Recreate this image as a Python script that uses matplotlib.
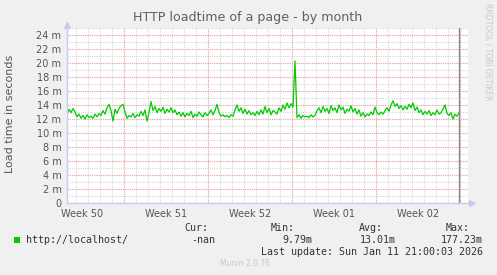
import matplotlib
matplotlib.use('Agg')
import matplotlib.pyplot as plt
import matplotlib.dates as mdates
import numpy as np
import pandas as pd

# load time in ms, one sample every 4 hours
start = '2025-12-10 06:00'
step = '4h'
loadtime = [12.6, 13.4, 12.9, 13.5, 13.0, 12.3, 12.7, 12.1, 12.5, 12.0, 12.6, 12.2, 12.4, 12.1, 12.7,
            12.3, 12.8, 12.5, 13.2, 12.7, 13.6, 14.1, 13.2, 11.7, 13.4, 12.8, 13.5, 13.9, 14.1,
            13.0, 12.1, 12.5, 12.3, 12.8, 12.2, 12.6, 12.4, 13.1, 12.5, 13.3, 11.7, 12.9, 14.5, 13.2,
            13.8, 12.9, 13.5, 13.1, 13.7, 12.8, 13.4, 13.0, 13.6, 12.9, 13.3, 12.6, 13.0, 12.4, 12.9,
            12.3, 12.8, 12.5, 13.1, 12.2, 12.7, 12.4, 13.0, 12.6, 12.3, 12.9, 12.5,
            12.8, 13.3, 12.6, 13.2, 14.1, 12.9, 12.4, 12.6, 12.3, 12.5, 12.2, 12.6, 12.4, 13.3, 14.0,
            13.1, 13.6, 12.8, 13.4, 12.7, 13.2, 12.6, 12.9, 12.5, 13.1, 12.6, 13.3, 12.7, 13.8, 12.9,
            13.5, 12.6, 13.2, 13.0, 12.7, 13.6, 13.1, 14.0, 13.4, 14.3, 13.6, 14.2, 13.7,
            20.3,
            12.2, 12.6, 12.1, 12.5, 12.3, 12.4, 12.2, 12.6, 12.3, 12.5, 13.2, 13.6, 12.9, 13.8, 13.1,
            13.5, 12.8, 13.9, 13.2, 13.6, 12.9, 14.0, 13.3, 13.7, 12.8, 13.4, 13.1, 13.9, 13.0, 13.5,
            12.7, 13.3, 12.4, 12.9, 12.3, 12.7, 12.5, 13.0, 12.6, 13.7,
            12.9, 12.6, 13.0, 12.7, 13.2, 13.6, 13.1, 14.0, 14.6, 13.8, 14.2, 13.5, 13.9, 13.3, 13.8,
            13.4, 14.1, 13.6, 14.3, 13.2, 13.7, 12.9, 13.3, 12.6, 13.1, 12.7, 13.2, 12.5, 12.9, 12.6,
            13.3, 12.7, 12.9, 13.4, 14.0, 12.8, 12.5, 12.9, 12.0, 12.7, 12.4, 12.9]
weeks = ['Week 50', 'Week 51', 'Week 52', 'Week 01', 'Week 02']
week_starts = ['2025-12-08', '2025-12-15', '2025-12-22', '2025-12-29', '2026-01-05', '2026-01-12']
now = '2026-01-11 21:00'
cur, vmin, vavg, vmax = '-nan', '9.79m', '13.01m', '177.23m'
last_update = 'Last update: Sun Jan 11 21:00:03 2026'

times = pd.date_range(start, periods=len(loadtime), freq=step)

W, H = 497, 275
fig = plt.figure(figsize=(W / 100, H / 100), dpi=100, facecolor='#f0f0f0')
ax = fig.add_axes([67 / W, (H - 203) / H, (468 - 67) / W, 175 / H])
ax.set_facecolor('white')

x0 = pd.Timestamp('2025-12-10 06:00')
x1 = pd.Timestamp('2026-01-12 16:00')
ax.set_xlim(x0, x1)
ax.set_ylim(0, 25)

# grid: minor per day / 1 m, major per week / 2 m
for d in pd.date_range('2025-12-11', '2026-01-12', freq='D'):
    ax.axvline(d, color='#d8d8d8', lw=0.8, ls=(0, (1, 1)), zorder=1)
for v in range(1, 26):
    ax.axhline(v, color='#d8d8d8', lw=0.8, ls=(0, (1, 1)), zorder=1)
for v in range(2, 25, 2):
    ax.axhline(v, color='#f0a8a8', lw=0.8, ls=(0, (1, 1)), zorder=1)
for w in week_starts[1:]:
    ax.axvline(pd.Timestamp(w), color='#f0a8a8', lw=0.8, ls=(0, (1, 1)), zorder=1)

ax.plot(times, loadtime, color='#00cc00', lw=0.9, zorder=3)
ax.axvline(pd.Timestamp(now), color='#888888', lw=1.0, zorder=4)

for s in ax.spines.values():
    s.set_visible(False)
axis_col = '#c8c8f0'
ax.plot([0, 0], [0, 1.0], transform=ax.transAxes, color=axis_col, lw=1, clip_on=False, zorder=5)
ax.plot([0, 1.0], [0, 0], transform=ax.transAxes, color=axis_col, lw=1, clip_on=False, zorder=5)
ax.plot([0], [1.02], marker='^', ms=5, color=axis_col, transform=ax.transAxes, clip_on=False)
ax.plot([1.01], [0], marker='>', ms=5, color=axis_col, transform=ax.transAxes, clip_on=False)

label_pos = [pd.Timestamp(w) + pd.Timedelta(hours=84) for w in week_starts[:-1]]
ax.set_xticks(label_pos)
ax.set_xticklabels(weeks)
ax.set_yticks(range(0, 25, 2))
ax.set_yticklabels(['0'] + [f'{v} m' for v in range(2, 25, 2)])
ax.tick_params(length=0, labelsize=7, colors='#555555', pad=4)

fig.text(248 / W, 1 - 18 / H, 'HTTP loadtime of a page - by month', ha='center', va='center',
         fontsize=9.1, color='#606060')
fig.text(10 / W, 1 - 114 / H, 'Load time in seconds', rotation=90, ha='center', va='center',
         fontsize=8, color='#555555')
fig.text(488 / W, 1 - 52 / H, 'RRDTOOL / TOBI OETIKER', rotation=270, ha='center', va='center',
         fontsize=5.5, color='#c8c8c8')

mono = dict(family='DejaVu Sans Mono', fontsize=7.2, color='#333333', va='center')
fig.patches.append(plt.Rectangle((14 / W, 1 - 243 / H), 6 / W, 6 / H, transform=fig.transFigure,
                                 facecolor='#00cc00', edgecolor='none'))
fig.text(26 / W, 1 - 240 / H, 'http://localhost/', ha='left', **mono)
for xr, head in [(208, 'Cur:'), (295, 'Min:'), (383, 'Avg:'), (470, 'Max:')]:
    fig.text(xr / W, 1 - 228 / H, head, ha='right', **mono)
fig.text(215 / W, 1 - 240 / H, cur, ha='right', **mono)
fig.text(312 / W, 1 - 240 / H, vmin, ha='right', **mono)
fig.text(396 / W, 1 - 240 / H, vavg, ha='right', **mono)
fig.text(483 / W, 1 - 240 / H, vmax, ha='right', **mono)
fig.text(483 / W, 1 - 252 / H, last_update, ha='right', **mono)
fig.text(245 / W, 1 - 264 / H, 'Munin 2.0.76', ha='center', va='center', fontsize=5.5, color='#c8c8c8')

fig.savefig('out.png', dpi=100, facecolor=fig.get_facecolor())
